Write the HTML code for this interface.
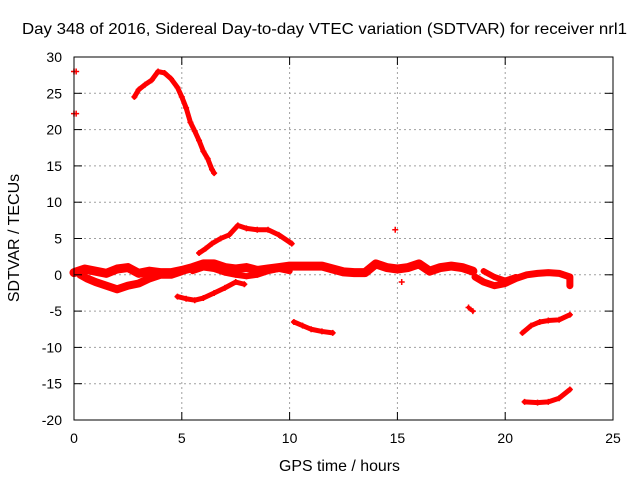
<!DOCTYPE html>
<html><head><meta charset="utf-8"><style>
body{margin:0;background:#fff}
text{font-family:"Liberation Sans",sans-serif;font-size:14px;fill:#000}
.big{font-size:16px}
</style></head><body>
<svg id="chart" width="640" height="480">
<g id="grid"></g>
<g id="series"></g>
<rect x="74" y="57" width="539" height="363" fill="none" stroke="#000"/>
<g id="ticks"></g>
<text class="big" x="22" y="34" textLength="605" lengthAdjust="spacingAndGlyphs">Day 348 of 2016, Sidereal Day-to-day VTEC variation (SDTVAR) for receiver nrl1</text>
<text class="big" x="279" y="471" textLength="121" lengthAdjust="spacingAndGlyphs">GPS time / hours</text>
<text class="big" transform="translate(19,238) rotate(-90)" text-anchor="middle">SDTVAR / TECUs</text>
</svg>
<script>
const xTicks=[0,5,10,15,20,25];
const yTicks=[30,25,20,15,10,5,0,-5,-10,-15,-20];
const arcHigh=[[2.8,24.5],[3.0,25.5],[3.3,26.2],[3.6,26.8],[3.9,28],[4.2,27.8],[4.5,27],[4.8,25.8],[5.0,24.5],[5.2,23],[5.4,21],[5.6,19.8],[5.8,18.5],[6.0,17],[6.2,16],[6.4,14.5],[6.5,14]];
const isolated=[[0,28],[0.1,28],[0,22.2],[0.1,22.2],[14.9,6.2],[15.2,-1]];
const arcUpper=[[5.8,3],[6.1,3.6],[6.4,4.3],[6.8,5],[7.2,5.5],[7.6,6.8],[8,6.4],[8.5,6.2],[9,6.2],[9.5,5.5],[10,4.5],[10.1,4.3]];
const bandA=[[0,0.3],[0.5,0.8],[1,0.5],[1.5,0.2],[2,0.8],[2.5,1],[3,0.2],[3.5,0.5],[4,0.3],[4.5,0.3],[5,0.6],[5.5,1],[6,1.5],[6.5,1.5],[7,1],[7.5,0.8],[8,1],[8.5,0.6],[9,0.8],[9.5,1],[10,1.2],[10.5,1.2],[11,1.2],[11.5,1.2],[12,0.8],[12.5,0.4],[13,0.3],[13.5,0.3],[14,1.5],[14.5,1],[15,0.8],[15.5,1],[16,1.5],[16.5,0.5],[17,1],[17.5,1.2],[18,1],[18.5,0.5]];
const bandB=[[0.3,0],[0.6,-0.5],[1,-1],[1.5,-1.5],[2,-2],[2.5,-1.5],[3,-1.2],[3.5,-0.5],[4,0],[4.5,0],[5,0.5]];
const bandC=[[5.5,0.5],[6,1],[6.5,0.8],[7,0.3],[7.5,0],[8,-0.2],[8.5,0],[9,0.5],[9.5,0.8],[10,0.5]];
const bandD=[[18.6,-0.3],[19,-1],[19.5,-1.5],[20,-1.2],[20.5,-0.5],[21,0],[21.5,0.2],[22,0.3],[22.5,0.2],[23,-0.3],[23,-1.5]];
const bandE=[[19,0.5],[19.5,-0.3],[20,-0.8],[20.5,-0.3]];
const arcLow=[[4.8,-3],[5.2,-3.3],[5.6,-3.5],[6,-3.2],[6.5,-2.5],[7,-1.8],[7.5,-1],[7.9,-1.3]];
const seg10=[[10.2,-6.5],[10.6,-7],[11,-7.5],[11.5,-7.8],[12,-8]];
const seg18=[[18.3,-4.5],[18.5,-5]];
const seg21=[[20.8,-8],[21.2,-7],[21.6,-6.5],[22,-6.3],[22.5,-6.2],[23,-5.5]];
const seg21low=[[20.9,-17.5],[21.5,-17.6],[22,-17.5],[22.5,-17],[23,-15.8]];
const NS='http://www.w3.org/2000/svg';
const X=v=>74+v*539/25, Y=v=>57+(30-v)*363/50;
const grid=document.getElementById('grid'),ticks=document.getElementById('ticks'),ser=document.getElementById('series');
function mk(t,a,p){const e=document.createElementNS(NS,t);for(const k in a)e.setAttribute(k,a[k]);p.appendChild(e);return e;}
xTicks.forEach(v=>{const x=X(v);
 if(v>0&&v<25){const g=mk('line',{x1:x,x2:x,y1:57,y2:420,stroke:'#a0a0a0','stroke-dasharray':'2,3'},grid);
 
 }
 mk('line',{x1:x,x2:x,y1:420,y2:412,stroke:'#000'},ticks);mk('line',{x1:x,x2:x,y1:57,y2:65,stroke:'#000'},ticks);
 const t=mk('text',{x:x,y:443,'text-anchor':'middle'},ticks);t.textContent=v;
 
 });
yTicks.forEach(v=>{const y=Y(v);
 if(v>-20&&v<30){const g=mk('line',{x1:74,x2:613,y1:y,y2:y,stroke:'#a0a0a0','stroke-dasharray':'2,3'},grid);
 
 }
 mk('line',{x1:74,x2:82,y1:y,y2:y,stroke:'#000'},ticks);mk('line',{x1:613,x2:605,y1:y,y2:y,stroke:'#000'},ticks);
 const t=mk('text',{x:62,y:y+5,'text-anchor':'end'},ticks);t.textContent=v;
 
 });
function draw(arr,name,w){
 if(arr.length>1&&w){const pl=mk('polyline',{points:arr.map(p=>X(p[0])+','+Y(p[1])).join(' '),fill:'none',stroke:'#f00','stroke-width':w,'stroke-linejoin':'round','stroke-linecap':'round'},ser);
 
 }
 arr.forEach(p=>{const x=X(p[0]),y=Y(p[1]);
  const m=mk('path',{d:`M${x-3},${y}H${x+3}M${x},${y-3}V${y+3}`,stroke:'#f00','stroke-width':1.5},ser);
  
  });
}
draw(arcHigh,'arc-high',5);draw(isolated,'isolated-points',0);draw(arcUpper,'arc-upper',5);
draw(bandA,'band-a',9);draw(bandB,'band-b',8);draw(bandC,'band-c',6);draw(bandD,'band-d',7);draw(bandE,'band-e',6);
draw(arcLow,'arc-low',5);draw(seg10,'segment-10h',5);draw(seg18,'segment-18h',4);draw(seg21,'segment-21h',5);draw(seg21low,'segment-21h-low',5);
</script>
</body></html>
